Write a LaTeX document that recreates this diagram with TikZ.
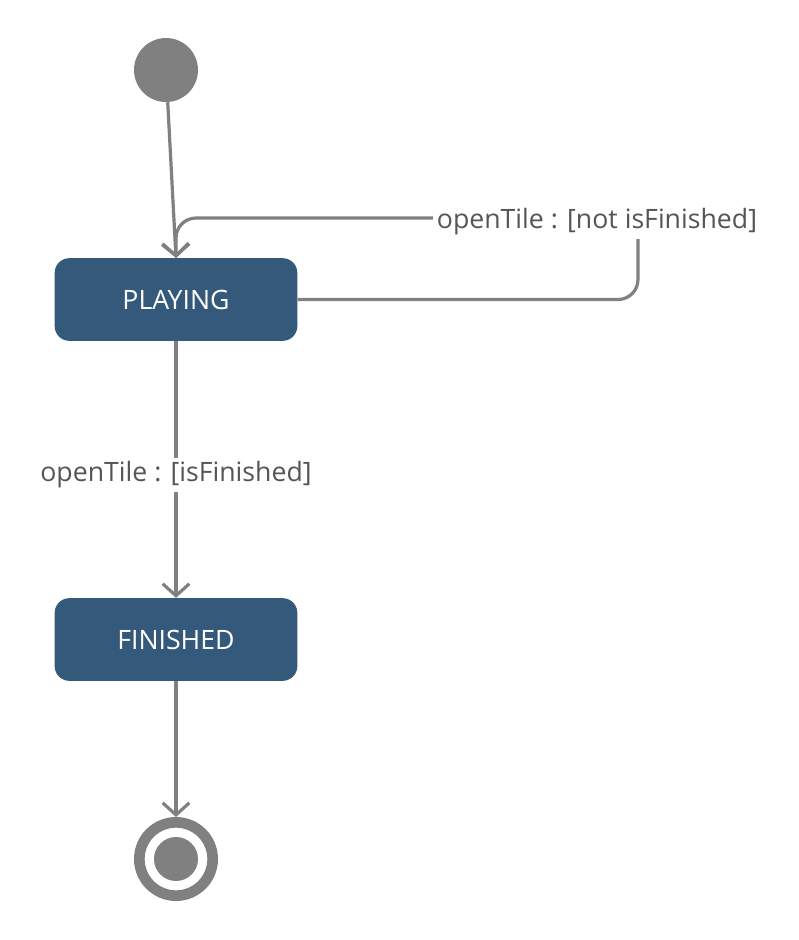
\documentclass[tikz,border=0pt]{standalone}
\usepackage{fontspec}
\setmainfont{Open Sans}
\usetikzlibrary{arrows.meta}
\definecolor{stateblue}{HTML}{34597B}
\definecolor{linegray}{HTML}{808080}
\definecolor{labelgray}{HTML}{555555}

\begin{document}
\begin{tikzpicture}[x=0.75pt, y=-0.75pt,
    state/.style={rectangle, fill=stateblue, rounded corners=11pt,
      minimum width=182pt, minimum height=62pt, text=white,
      font=\fontsize{20}{24}\selectfont},
    initst/.style={circle, fill=linegray, minimum size=48pt, inner sep=0pt},
    finalst/.style={circle, draw=linegray, line width=8pt, fill=white,
      minimum size=55pt, inner sep=0pt},
    finaldot/.style={circle, fill=linegray, minimum size=33pt, inner sep=0pt},
    lbl/.style={fill=white, text=labelgray, inner sep=3pt,
      font=\fontsize{20}{24}\selectfont},
    arr/.style={draw=linegray, line width=2.4pt,
      -{Straight Barb[length=9pt, width=20pt, line width=2.4pt]}}
  ]
  \useasboundingbox (0,0) rectangle (799,940);

  % states
  \node[initst] (init) at (166,70) {};
  \node[state] (playing) at (176,299.5) {PLAYING};
  \node[state] (finished) at (176,639.5) {FINISHED};
  \node[finalst] (final) at (176,859) {};
  \node[finaldot] (finaldot) at (176,859) {};

  % transitions
  \coordinate (loopr) at (638,218);
  \draw[arr] (init) -- (playing.north);
  \draw[arr, rounded corners=15pt] (playing.east) -| (loopr) -| (playing.north);
  \node[lbl] (looplbl) at (597,222) {openTile : [not isFinished]};

  \draw[arr] (playing) -- (finished);
  \node[lbl] (donelbl) at (176,475) {openTile : [isFinished]};

  \draw[arr] (finished) -- (final);
\end{tikzpicture}
\end{document}
